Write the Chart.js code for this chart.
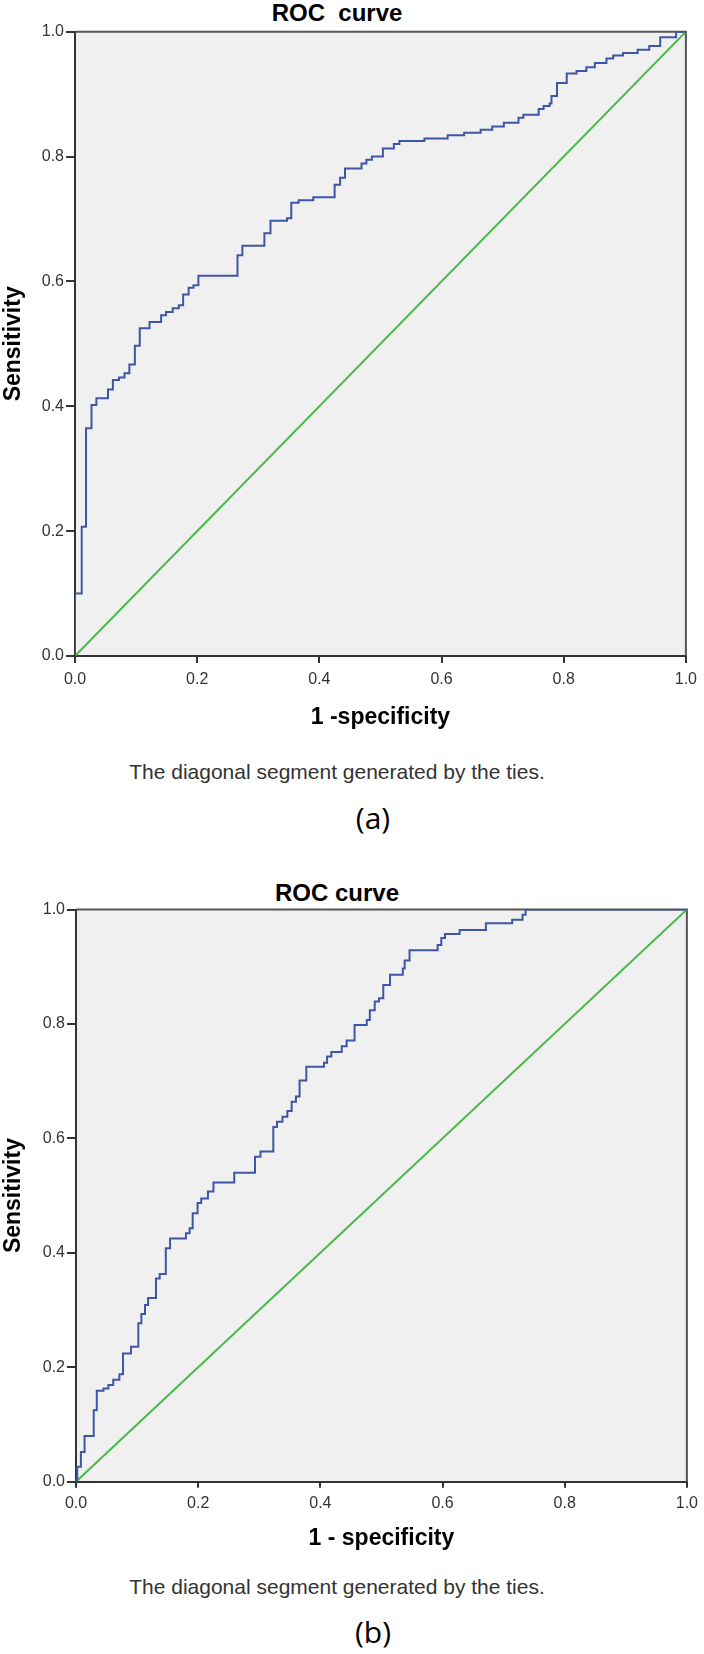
<!DOCTYPE html>
<html>
<head>
<meta charset="utf-8">
<script src="https://cdn.jsdelivr.net/npm/chart.js@4/dist/chart.umd.min.js"></script>
<style>
html,body{margin:0;padding:0;background:#fff;}
body{width:704px;height:1654px;position:relative;overflow:hidden;font-family:'Liberation Sans',Arial,sans-serif;}
.c{position:absolute;left:0;width:704px;}
.t{position:absolute;left:0;width:674px;text-align:center;white-space:pre;}
.title{font-weight:bold;font-size:24px;line-height:28px;color:#000;}
.note{font-size:21px;line-height:24px;color:#333;}
.lab{font-family:'Open Sans','Noto Sans',sans-serif;font-size:30px;line-height:40px;color:#000;width:746px;}
</style>
</head>
<body>
<div class="t title" style="top:-1px">ROC  curve</div>
<div class="c" style="top:0;height:731px"><canvas id="ca" width="704" height="731" style="width:704px;height:731px"></canvas></div>
<div class="t note" style="top:760px">The diagonal segment generated by the ties.</div>
<div class="t lab" style="top:798px">(a)</div>

<div class="t title" style="top:879px">ROC curve</div>
<div class="c" style="top:880px;height:672px"><canvas id="cb" width="704" height="672" style="width:704px;height:672px"></canvas></div>
<div class="t note" style="top:1575px">The diagonal segment generated by the ties.</div>
<div class="t lab" style="top:1612px">(b)</div>

<script>
// ---- data ----
const tickValues = [0, 0.2, 0.4, 0.6, 0.8, 1.0];
const tickLabels = ['0.0', '0.2', '0.4', '0.6', '0.8', '1.0'];

// ROC (a): 1 - specificity and sensitivity
const fprA = [0, 0, 0.011, 0.018, 0.027, 0.035, 0.054, 0.062, 0.072, 0.081, 0.089, 0.098, 0.106, 0.122, 0.141, 0.149, 0.160, 0.170, 0.177, 0.186, 0.194, 0.202, 0.266, 0.274, 0.310, 0.320, 0.347, 0.354, 0.366, 0.390, 0.425, 0.434, 0.442, 0.469, 0.477, 0.486, 0.504, 0.522, 0.531, 0.572, 0.610, 0.637, 0.664, 0.683, 0.702, 0.726, 0.734, 0.759, 0.767, 0.777, 0.780, 0.789, 0.805, 0.821, 0.837, 0.851, 0.870, 0.881, 0.897, 0.921, 0.940, 0.958, 0.984, 1.0];
const tprA = [0, 0.100, 0.207, 0.365, 0.402, 0.413, 0.427, 0.442, 0.446, 0.453, 0.467, 0.497, 0.525, 0.535, 0.546, 0.551, 0.557, 0.562, 0.579, 0.590, 0.594, 0.609, 0.642, 0.657, 0.677, 0.697, 0.701, 0.726, 0.730, 0.735, 0.755, 0.766, 0.781, 0.789, 0.795, 0.800, 0.813, 0.820, 0.825, 0.829, 0.834, 0.838, 0.843, 0.848, 0.854, 0.862, 0.867, 0.876, 0.881, 0.885, 0.897, 0.918, 0.933, 0.937, 0.943, 0.950, 0.957, 0.962, 0.966, 0.971, 0.977, 0.991, 1.0, 1.0];

// ROC (b)
const fprB = [0, 0.002, 0.008, 0.014, 0.029, 0.034, 0.045, 0.053, 0.061, 0.071, 0.077, 0.090, 0.102, 0.102, 0.107, 0.113, 0.118, 0.131, 0.137, 0.147, 0.154, 0.180, 0.186, 0.191, 0.199, 0.205, 0.216, 0.225, 0.259, 0.293, 0.302, 0.323, 0.329, 0.338, 0.346, 0.353, 0.360, 0.366, 0.377, 0.406, 0.411, 0.418, 0.435, 0.443, 0.456, 0.476, 0.481, 0.489, 0.496, 0.503, 0.514, 0.535, 0.538, 0.546, 0.592, 0.598, 0.604, 0.628, 0.671, 0.714, 0.731, 0.736, 1.0];
const tprB = [0, 0.026, 0.052, 0.080, 0.125, 0.159, 0.163, 0.169, 0.178, 0.188, 0.224, 0.236, 0.248, 0.277, 0.293, 0.309, 0.321, 0.355, 0.363, 0.408, 0.425, 0.434, 0.443, 0.469, 0.487, 0.495, 0.507, 0.523, 0.540, 0.568, 0.577, 0.620, 0.629, 0.638, 0.648, 0.664, 0.673, 0.701, 0.725, 0.732, 0.743, 0.751, 0.761, 0.771, 0.798, 0.807, 0.824, 0.839, 0.845, 0.868, 0.886, 0.897, 0.911, 0.929, 0.938, 0.950, 0.957, 0.964, 0.976, 0.982, 0.991, 1.0, 1.0];

// reference diagonal
const diagX = [0, 1];
const diagY = [0, 1];

const FONT = "'Liberation Sans', Arial, sans-serif";

const framePlugin = {
  id: 'frame',
  beforeDraw(chart) {
    const a = chart.chartArea, ctx = chart.ctx;
    ctx.save();
    ctx.fillStyle = '#f0f0f0';
    ctx.fillRect(a.left, a.top, a.right - a.left, a.bottom - a.top);
    ctx.restore();
  },
  beforeDatasetsDraw(chart) {
    const a = chart.chartArea, ctx = chart.ctx;
    ctx.save();
    ctx.strokeStyle = '#555';
    ctx.lineWidth = 2;
    ctx.beginPath();
    ctx.moveTo(a.left, a.top);
    ctx.lineTo(a.right, a.top);
    ctx.lineTo(a.right, a.bottom);
    ctx.stroke();
    ctx.restore();
  }
};

function makeChart(id, fpr, tpr, cfg) {
  const pts = fpr.map((x, i) => ({x: x, y: tpr[i]}));
  const diag = diagX.map((x, i) => ({x: x, y: diagY[i]}));
  const setTicks = s => { s.ticks = tickValues.map(v => ({value: v})); };
  return new Chart(document.getElementById(id), {
    type: 'line',
    data: {
      datasets: [
        {data: pts, borderColor: '#3f55a5', borderWidth: 2, pointRadius: 0, stepped: true, fill: false, tension: 0},
        {data: diag, borderColor: '#4cb84c', borderWidth: 2, pointRadius: 0, fill: false, tension: 0}
      ]
    },
    options: {
      responsive: false,
      animation: false,
      events: [],
      layout: {padding: {top: cfg.padTop, right: cfg.padRight, left: 0, bottom: 0}},
      plugins: {legend: {display: false}, tooltip: {enabled: false}, title: {display: false}},
      scales: {
        x: {
          type: 'linear', min: 0, max: 1, offset: false,
          afterBuildTicks: setTicks,
          afterFit: s => { s.height = cfg.xHeight; },
          grid: {display: true, drawOnChartArea: false, drawTicks: true, tickLength: cfg.xTick, color: '#333', lineWidth: 2},
          border: {display: true, color: '#333', width: 2},
          ticks: {callback: (v, i) => tickLabels[i], autoSkip: false, maxRotation: 0, padding: cfg.xPad,
                  color: '#333', font: {family: FONT, size: 16}},
          title: {display: true, text: cfg.xTitle, color: '#000', padding: 0,
                  font: {family: FONT, size: 23, weight: 'bold'}}
        },
        y: {
          type: 'linear', min: 0, max: 1,
          afterBuildTicks: setTicks,
          afterFit: s => { s.width = cfg.yWidth; },
          grid: {display: true, drawOnChartArea: false, drawTicks: true, tickLength: 9, color: '#333', lineWidth: 2},
          border: {display: true, color: '#333', width: 2},
          ticks: {callback: (v, i) => tickLabels[i], autoSkip: false, padding: 2,
                  color: '#333', font: {family: FONT, size: 16}},
          title: {display: true, text: 'Sensitivity', color: '#000', padding: 0,
                  font: {family: FONT, size: 23, weight: 'bold'}}
        }
      }
    },
    plugins: [framePlugin]
  });
}

makeChart('ca', fprA, tprA, {padTop: 31.7, padRight: 14, yWidth: 75, xHeight: 75, xTick: 7, xPad: 7, xTitle: '1 -specificity'});
makeChart('cb', fprB, tprB, {padTop: 29.5, padRight: 13, yWidth: 76, xHeight: 70.3, xTick: 6, xPad: 6, xTitle: '1 - specificity'});
</script>
</body>
</html>
